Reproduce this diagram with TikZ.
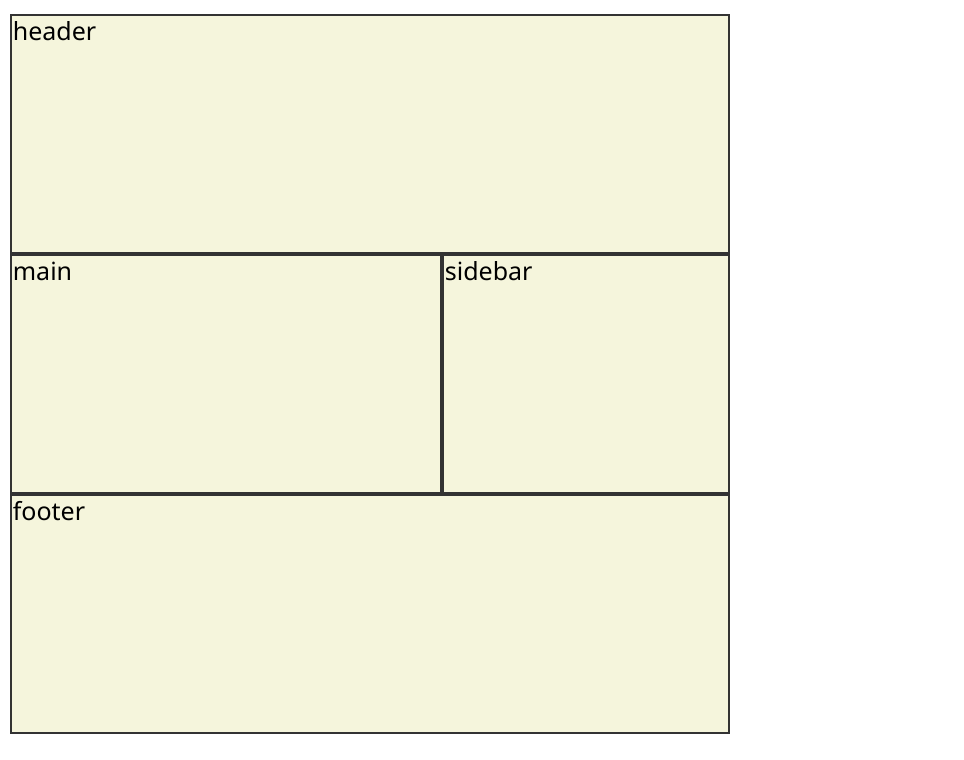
\documentclass[tikz,border=0pt]{standalone}
\usepackage{fontspec}
\setmainfont{Noto Sans}
\usepackage{tikz}
\usetikzlibrary{positioning}
\definecolor{areafill}{HTML}{F5F5DC}
\definecolor{areadraw}{HTML}{333333}
\tikzset{
  area/.style={draw=areadraw,fill=areafill,line width=1.5pt,
    rectangle,anchor=north west,inner sep=0pt,outer sep=0pt},
  tag/.style={anchor=base west,inner sep=0pt,font=\fontsize{18.75}{22}\selectfont}
}

\begin{document}
\begin{tikzpicture}[x=0.75pt,y=-0.75pt]
  \useasboundingbox (0,0) rectangle (964,760);
  % grid areas
  \node[area,minimum width=538.5pt,minimum height=178.5pt] (header) at (11,15) {};
  \node[area,minimum width=322.5pt,minimum height=178.5pt] (main) at (11,255) {};
  \node[area,minimum width=214.5pt,minimum height=178.5pt] (sidebar) at (443,255) {};
  \node[area,minimum width=538.5pt,minimum height=178.5pt] (footer) at (11,495) {};
  % labels
  \foreach \A in {header,main,sidebar,footer}
    \node[tag] (\A-tag) at ([xshift=1.2pt,yshift=-18.75pt]\A.north west) {\A};
\end{tikzpicture}
\end{document}
